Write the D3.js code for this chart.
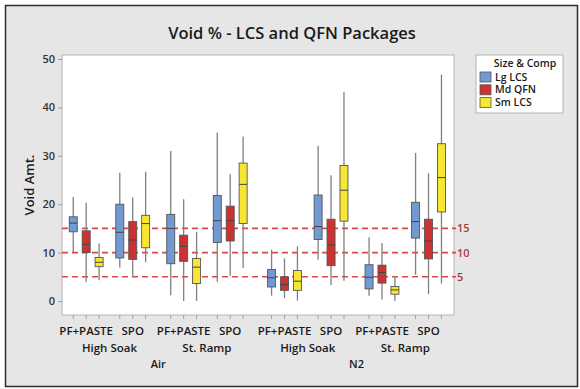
<!DOCTYPE html>
<html>
<head>
<meta charset="utf-8">
<script src="https://cdn.jsdelivr.net/npm/d3@7"></script>
<style>
  body { margin: 0; background: #fff; }
  svg { display: block; font-family: "Open Sans", "Noto Sans", sans-serif; }
</style>
</head>
<body>
<svg id="chart" width="580" height="389"></svg>
<script>
// categories, outermost first
const atmospheres = ['Air', 'N2'];
const profiles = ['High Soak', 'St. Ramp'];
const methods = ['PF+PASTE', 'SPO'];
const seriesNames = ['Lg LCS', 'Md QFN', 'Sm LCS'];

// box stats per cell: [whisker low, Q1, median, Q3, whisker high]
// cell order: Air/HS/PF, Air/HS/SPO, Air/SR/PF, Air/SR/SPO, N2/HS/PF, N2/HS/SPO, N2/SR/PF, N2/SR/SPO
const lgLCS = [
  [10.0, 14.3, 16.1, 17.4, 21.5],
  [6.9, 8.9, 14.2, 20.0, 26.5],
  [1.2, 7.7, 15.0, 17.9, 31.0],
  [4.0, 12.1, 16.6, 21.8, 34.8],
  [1.1, 2.9, 4.8, 6.5, 10.6],
  [8.5, 12.7, 15.4, 21.9, 32.1],
  [1.1, 2.5, 4.9, 7.5, 13.2],
  [5.4, 13.0, 16.4, 20.4, 30.6]
];
const mdQFN = [
  [4.0, 10.0, 11.7, 14.5, 20.3],
  [4.9, 8.6, 12.6, 16.4, 21.4],
  [0.0, 8.2, 11.3, 13.6, 21.0],
  [5.2, 12.4, 16.6, 19.6, 26.2],
  [0.6, 2.2, 3.4, 5.0, 8.8],
  [3.3, 7.3, 11.6, 16.9, 26.0],
  [0.3, 3.7, 5.9, 7.4, 12.0],
  [1.4, 8.7, 12.4, 16.9, 26.4]
];
const smLCS = [
  [4.3, 7.1, 8.0, 9.0, 11.9],
  [8.0, 11.0, 16.0, 17.7, 26.7],
  [0.0, 3.6, 7.0, 8.8, 14.3],
  [6.8, 16.0, 24.1, 28.5, 34.0],
  [0.1, 2.2, 4.1, 6.3, 11.3],
  [4.2, 16.5, 22.9, 28.0, 43.2],
  [0.0, 1.4, 2.3, 3.0, 5.0],
  [3.6, 18.4, 25.5, 32.5, 46.8]
];
const yTicks = [0, 10, 20, 30, 40, 50];
const refLines = [5, 10, 15];

const seriesData = [lgLCS, mdQFN, smLCS];
const colors = ['#7199d2', '#cc3232', '#f7e733'];

const svg = d3.select('#chart');

// frame
svg.append('rect')
  .attr('x', 5.5).attr('y', 5.5).attr('width', 572).attr('height', 381)
  .attr('fill', '#e6e6e6').attr('stroke', '#2b2b2b').attr('stroke-width', 1.5);

const plot = { left: 62, right: 454, top: 55, bottom: 315 };

// slot index of a box; extra gaps between nested groups
const gapMethod = 0.6, gapProfile = 0.94, gapAtmos = 1.2;
function slotOf(a, p, m, s) {
  return s + m * (3 + gapMethod) + p * (6 + gapMethod + gapProfile) +
    a * (12 + 2 * gapMethod + gapProfile + gapAtmos);
}
const lastSlot = slotOf(1, 1, 1, 2);

const x = d3.scaleLinear().domain([-0.87, lastSlot + 0.97]).range([plot.left, plot.right]);
const y = d3.scaleLinear().domain([-2.89, 50.83]).range([plot.bottom, plot.top]);

svg.append('rect')
  .attr('x', plot.left).attr('y', plot.top)
  .attr('width', plot.right - plot.left).attr('height', plot.bottom - plot.top)
  .attr('fill', '#fff').attr('stroke', '#b4b4b4');

// title
svg.append('text')
  .attr('x', 292).attr('y', 39)
  .attr('text-anchor', 'middle')
  .attr('font-size', 16.5).attr('font-weight', 600).attr('fill', '#1a1a1a')
  .text('Void % - LCS and QFN Packages');

// y axis
const yAxis = svg.append('g')
  .attr('transform', `translate(${plot.left},0)`)
  .call(d3.axisLeft(y).tickValues(yTicks).tickSize(4).tickPadding(3));
yAxis.select('.domain').remove();
yAxis.selectAll('line').attr('stroke', '#a0a0a0');
yAxis.selectAll('text').attr('font-size', 11).attr('font-weight', 600).attr('fill', '#333')
  .attr('font-family', '"Open Sans", sans-serif');

svg.append('text')
  .attr('transform', `translate(34,${(plot.top + plot.bottom) / 2}) rotate(-90)`)
  .attr('text-anchor', 'middle')
  .attr('font-size', 13).attr('font-weight', 600).attr('fill', '#1a1a1a')
  .text('Void Amt.');

// reference lines
refLines.forEach(v => {
  svg.append('line')
    .attr('x1', plot.left).attr('x2', plot.right + 2)
    .attr('y1', y(v)).attr('y2', y(v))
    .attr('stroke', '#d9474a').attr('stroke-width', 1.6)
    .attr('stroke-dasharray', '6,4');
  svg.append('text')
    .attr('x', plot.right + 3).attr('y', y(v)).attr('dy', '0.36em')
    .attr('font-size', 11).attr('font-weight', 600).attr('fill', '#a93c3c')
    .text(v);
});

// boxes
const boxW = 8;
const cells = [];
atmospheres.forEach((a, ai) => profiles.forEach((p, pi) => methods.forEach((m, mi) => {
  cells.push({ ai, pi, mi });
})));

const boxes = [];
cells.forEach((c, ci) => {
  seriesData.forEach((arr, si) => {
    const [lo, q1, med, q3, hi] = arr[ci];
    boxes.push({ cx: x(slotOf(c.ai, c.pi, c.mi, si)), lo, q1, med, q3, hi, color: colors[si] });
  });
});

// x ticks at each box
svg.append('g').selectAll('line').data(boxes).join('line')
  .attr('x1', d => d.cx).attr('x2', d => d.cx)
  .attr('y1', plot.bottom).attr('y2', plot.bottom + 4)
  .attr('stroke', '#a0a0a0');

const g = svg.append('g');
const bx = g.selectAll('g').data(boxes).join('g');
bx.append('line')
  .attr('x1', d => d.cx).attr('x2', d => d.cx)
  .attr('y1', d => y(d.hi)).attr('y2', d => y(d.lo))
  .attr('stroke', '#808080').attr('stroke-width', 1.3);
bx.append('rect')
  .attr('x', d => d.cx - boxW / 2).attr('width', boxW)
  .attr('y', d => y(d.q3)).attr('height', d => y(d.q1) - y(d.q3))
  .attr('fill', d => d.color).attr('stroke', '#555').attr('stroke-width', 0.9);
bx.append('line')
  .attr('x1', d => d.cx - boxW / 2).attr('x2', d => d.cx + boxW / 2)
  .attr('y1', d => y(d.med)).attr('y2', d => y(d.med))
  .attr('stroke', '#444').attr('stroke-width', 1);

// x category labels, nested
const lab = svg.append('g').attr('font-weight', 600).attr('fill', '#1a1a1a').attr('text-anchor', 'middle');
atmospheres.forEach((a, ai) => {
  const ax = (x(slotOf(ai, 0, 0, 0)) + x(slotOf(ai, 1, 1, 2))) / 2;
  lab.append('text').attr('x', ax).attr('y', 368).attr('font-size', 11).text(a);
  profiles.forEach((p, pi) => {
    const px = (x(slotOf(ai, pi, 0, 0)) + x(slotOf(ai, pi, 1, 2))) / 2;
    lab.append('text').attr('x', px).attr('y', 352).attr('font-size', 11.5).text(p);
    methods.forEach((m, mi) => {
      const mx = x(slotOf(ai, pi, mi, 1));
      lab.append('text').attr('x', mx).attr('y', 335).attr('font-size', 11.5).text(m);
    });
  });
});

// legend
const leg = svg.append('g');
leg.append('rect')
  .attr('x', 476).attr('y', 55).attr('width', 87).attr('height', 58)
  .attr('fill', '#fff').attr('stroke', '#b4b4b4');
leg.append('text')
  .attr('x', 525).attr('y', 67).attr('text-anchor', 'middle')
  .attr('font-size', 10.5).attr('font-weight', 600).attr('fill', '#1a1a1a')
  .text('Size & Comp');
seriesNames.forEach((n, i) => {
  const yy = 77 + i * 12.8;
  leg.append('rect')
    .attr('x', 480).attr('y', yy - 5).attr('width', 11).attr('height', 10)
    .attr('fill', colors[i]).attr('stroke', '#555').attr('stroke-width', 0.8);
  leg.append('text')
    .attr('x', 495).attr('y', yy).attr('dy', '0.35em')
    .attr('font-size', 10.5).attr('font-weight', 600).attr('fill', '#1a1a1a')
    .text(n);
});
</script>
</body>
</html>
